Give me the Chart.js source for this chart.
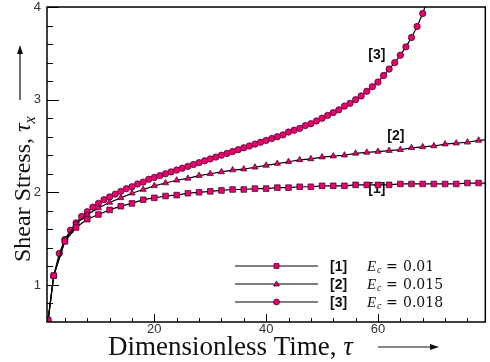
<!DOCTYPE html>
<html>
<head>
<meta charset="utf-8">
<script src="https://cdn.jsdelivr.net/npm/chart.js@4.4.1/dist/chart.umd.min.js"></script>
<style>
  body { margin: 0; background: #fff; }
  #wrap { width: 490px; height: 362px; }
</style>
</head>
<body>
<div id="wrap"><canvas id="shear_chart"></canvas></div>
<script>
// [1] Ec = 0.01 (squares), [2] Ec = 0.015 (triangles), [3] Ec = 0.018 (circles)
const tau1 = [1, 2, 4, 6, 8, 10, 12, 14, 16, 18, 20, 22, 24, 26, 28, 30, 32, 34, 36, 38, 40,
              42, 44, 46, 48, 50, 52, 54, 56, 58, 60, 62, 64, 66, 68, 70, 72, 74, 76, 78, 80];
const stress1 = [0.62, 1.10, 1.47, 1.62, 1.71, 1.76, 1.81, 1.85, 1.88, 1.92, 1.94, 1.96, 1.97, 1.99, 2.00, 2.01, 2.02, 2.03, 2.03, 2.04, 2.04,
                 2.05, 2.05, 2.06, 2.06, 2.07, 2.07, 2.07, 2.08, 2.08, 2.08, 2.08, 2.09, 2.09, 2.09, 2.09, 2.09, 2.09, 2.10, 2.10, 2.10];

const tau2 = [1, 2, 4, 6, 8, 10, 12, 14, 16, 18, 20, 22, 24, 26, 28, 30, 32, 34, 36, 38, 40,
              42, 44, 46, 48, 50, 52, 54, 56, 58, 60, 62, 64, 66, 68, 70, 72, 74, 76, 78, 80];
const stress2 = [0.62, 1.10, 1.48, 1.66, 1.76, 1.83, 1.89, 1.94, 1.99, 2.03, 2.07, 2.10, 2.13, 2.15, 2.18, 2.20, 2.22, 2.24, 2.25, 2.27, 2.29,
                 2.31, 2.33, 2.35, 2.36, 2.38, 2.39, 2.40, 2.42, 2.43, 2.44, 2.45, 2.46, 2.48, 2.49, 2.50, 2.52, 2.53, 2.54, 2.56, 2.57];

const tau3 = [1, 2, 3, 4, 5, 6, 7, 8, 9, 10, 11, 12, 13, 14, 15, 16, 17, 18, 19, 20, 21, 22, 23,
              24, 25, 26, 27, 28, 29, 30, 31, 32, 33, 34, 35, 36, 37, 38, 39, 40, 41, 42, 43, 44, 45, 46,
              47, 48, 49, 50, 51, 52, 53, 54, 55, 56, 57, 58, 59, 60, 61, 62, 63, 64, 65, 66, 67, 68, 69];
const stress3 = [0.62, 1.10, 1.34, 1.49, 1.59, 1.67, 1.74, 1.79, 1.84, 1.88, 1.92, 1.95, 1.98, 2.01, 2.04, 2.06, 2.09, 2.11, 2.14, 2.16, 2.18, 2.20, 2.22,
                 2.24, 2.26, 2.28, 2.30, 2.32, 2.34, 2.36, 2.38, 2.40, 2.42, 2.44, 2.46, 2.48, 2.50, 2.52, 2.54, 2.56, 2.58, 2.60, 2.62, 2.65, 2.67, 2.69,
                 2.72, 2.74, 2.77, 2.80, 2.83, 2.86, 2.89, 2.93, 2.96, 3.00, 3.04, 3.09, 3.14, 3.19, 3.26, 3.33, 3.40, 3.48, 3.57, 3.67, 3.79, 3.93, 4.10];

const seriesTags = ['[1]', '[2]', '[3]'];
const ecValues = ['0.01', '0.015', '0.018'];
const pointStyles = ['rect', 'triangle', 'circle'];

const xLabelTicks = [20, 40, 60];
const xMinorTicks = [4, 8, 12, 16, 24, 28, 32, 36, 44, 48, 52, 56, 64, 68, 72, 76];
const yLabelTicks = [1, 2, 3, 4];
const yMinorTicks = [0.8, 1.2, 1.4, 1.6, 1.8, 2.2, 2.4, 2.6, 2.8, 3.2, 3.4, 3.6, 3.8];

// where the curve tags sit, in data units
const tagTau = [59.8, 63.2, 59.8];
const tagStress = [2.03, 2.61, 3.48];

const PINK = '#e8006f';

function pts(xs, ys) {
    return xs.map((x, i) => ({ x: x, y: ys[i] }));
}

function makeSet(i, xs, ys, radius) {
    return {
        label: seriesTags[i],
        data: pts(xs, ys),
        borderColor: '#000',
        borderWidth: 1.2,
        pointStyle: pointStyles[i],
        pointRadius: radius,
        pointBackgroundColor: PINK,
        pointBorderColor: '#3a0020',
        pointBorderWidth: 0.7,
        tension: 0,
        fill: false
    };
}

const decoPlugin = {
    id: 'deco',
    beforeDatasetsDraw(chart) {
        const { ctx, scales: { x, y } } = chart;
        ctx.save();
        ctx.font = 'bold 14px "Liberation Sans", Arial, sans-serif';
        ctx.fillStyle = '#111';
        ctx.textAlign = 'center';
        ctx.textBaseline = 'middle';
        for (let i = 0; i < 3; i++) {
            ctx.fillText(seriesTags[i], x.getPixelForValue(tagTau[i]), y.getPixelForValue(tagStress[i]));
        }
        ctx.restore();
    },
    afterDraw(chart) {
        const { ctx, chartArea: a, scales: { x, y } } = chart;
        ctx.save();
        // frame
        ctx.strokeStyle = '#000';
        ctx.lineWidth = 1.5;
        ctx.strokeRect(a.left, a.top, a.right - a.left, a.bottom - a.top);

        // inward ticks
        ctx.lineWidth = 1;
        ctx.beginPath();
        xLabelTicks.forEach(v => { const p = Math.round(x.getPixelForValue(v)) + 0.5; ctx.moveTo(p, a.bottom); ctx.lineTo(p, a.bottom - 8); });
        xMinorTicks.forEach(v => { const p = Math.round(x.getPixelForValue(v)) + 0.5; ctx.moveTo(p, a.bottom); ctx.lineTo(p, a.bottom - 4); });
        yLabelTicks.forEach(v => { const p = Math.round(y.getPixelForValue(v)) + 0.5; ctx.moveTo(a.left, p); ctx.lineTo(a.left + 12, p); });
        yMinorTicks.forEach(v => { const p = Math.round(y.getPixelForValue(v)) + 0.5; ctx.moveTo(a.left, p); ctx.lineTo(a.left + 6, p); });
        ctx.stroke();

        // axis titles
        ctx.fillStyle = '#111';
        ctx.textBaseline = 'alphabetic';
        ctx.font = '27px "Liberation Serif", "Times New Roman", serif';
        const xt = 'Dimensionless Time, ';
        let xx = 108;
        ctx.textAlign = 'left';
        ctx.fillText(xt, xx, 355);
        xx += ctx.measureText(xt).width;
        ctx.font = 'italic 27px "Liberation Serif", "Times New Roman", serif';
        ctx.fillText('τ', xx, 355);
        // x arrow
        ctx.strokeStyle = '#111';
        ctx.lineWidth = 1.2;
        ctx.beginPath(); ctx.moveTo(378, 347); ctx.lineTo(432, 347); ctx.stroke();
        ctx.beginPath(); ctx.moveTo(439, 347); ctx.lineTo(430, 344); ctx.lineTo(430, 350); ctx.closePath(); ctx.fill();

        // y title, rotated
        ctx.save();
        ctx.translate(30, 262);
        ctx.rotate(-Math.PI / 2);
        ctx.font = '24px "Liberation Serif", "Times New Roman", serif';
        const yt = 'Shear Stress, ';
        ctx.fillText(yt, 0, 0);
        let yy = ctx.measureText(yt).width;
        ctx.font = 'italic 24px "Liberation Serif", "Times New Roman", serif';
        ctx.fillText('τ', yy, 0);
        yy += ctx.measureText('τ').width;
        ctx.font = 'italic 16px "Liberation Serif", "Times New Roman", serif';
        ctx.fillText('x', yy, 5);
        ctx.restore();
        // y arrow
        ctx.beginPath(); ctx.moveTo(20, 100); ctx.lineTo(20, 52); ctx.stroke();
        ctx.beginPath(); ctx.moveTo(20, 45); ctx.lineTo(17, 54); ctx.lineTo(23, 54); ctx.closePath(); ctx.fill();

        // legend, bottom right of the plot
        const rows = [266, 284, 302];
        for (let i = 0; i < 3; i++) {
            const ry = rows[i];
            ctx.strokeStyle = '#000';
            ctx.lineWidth = 1.2;
            ctx.beginPath(); ctx.moveTo(235, ry); ctx.lineTo(318, ry); ctx.stroke();
            ctx.fillStyle = PINK;
            ctx.strokeStyle = '#3a0020';
            ctx.lineWidth = 0.7;
            ctx.beginPath();
            if (i === 0) { ctx.rect(274, ry - 2.5, 5, 5); }
            else if (i === 1) { ctx.moveTo(276.5, ry - 3); ctx.lineTo(279.5, ry + 2); ctx.lineTo(273.5, ry + 2); ctx.closePath(); }
            else { ctx.arc(276.5, ry, 3, 0, Math.PI * 2); }
            ctx.fill(); ctx.stroke();

            ctx.fillStyle = '#111';
            ctx.textBaseline = 'middle';
            ctx.font = 'bold 14px "Liberation Sans", Arial, sans-serif';
            ctx.fillText(seriesTags[i], 330, ry + 1);
            ctx.font = 'italic 15px "Liberation Serif", "Times New Roman", serif';
            ctx.fillText('E', 367, ry + 1);
            ctx.font = 'italic 10px "Liberation Serif", "Times New Roman", serif';
            ctx.fillText('c', 377, ry + 4);
            ctx.font = '14px "DejaVu Serif", serif';
            ctx.fillText('=', 386, ry + 1);
            ctx.fillText(ecValues[i], 403, ry + 1);
        }
        ctx.restore();
    }
};

const ctx = document.getElementById('shear_chart').getContext('2d');
const shearChart = new Chart(ctx, {
    type: 'line',
    data: {
        datasets: [
            makeSet(0, tau1, stress1, 4),
            makeSet(1, tau2, stress2, 3.6),
            makeSet(2, tau3, stress3, 3.2)
        ]
    },
    options: {
        responsive: true,
        maintainAspectRatio: false,
        animation: false,
        layout: { padding: { top: 7, right: 4, left: 0, bottom: 0 } },
        plugins: {
            legend: { display: false },
            tooltip: { enabled: false }
        },
        scales: {
            x: {
                type: 'linear',
                min: 0.8,
                max: 79.2,
                grid: { display: false, drawTicks: false },
                border: { display: false },
                afterBuildTicks: s => { s.ticks = xLabelTicks.map(v => ({ value: v })); },
                afterFit: s => { s.height = 40; s.paddingLeft = 0; s.paddingRight = 0; },
                ticks: {
                    padding: 0,
                    maxRotation: 0,
                    color: '#333',
                    font: { family: '"Liberation Sans", Arial, sans-serif', size: 13 }
                }
            },
            y: {
                type: 'linear',
                min: 0.6,
                max: 4,
                grid: { display: false, drawTicks: false },
                border: { display: false },
                afterBuildTicks: s => { s.ticks = yLabelTicks.map(v => ({ value: v })); },
                afterFit: s => { s.width = 47; s.paddingTop = 0; s.paddingBottom = 0; },
                ticks: {
                    padding: 6,
                    color: '#333',
                    font: { family: '"Liberation Sans", Arial, sans-serif', size: 13 }
                }
            }
        }
    },
    plugins: [decoPlugin]
});
</script>
</body>
</html>
